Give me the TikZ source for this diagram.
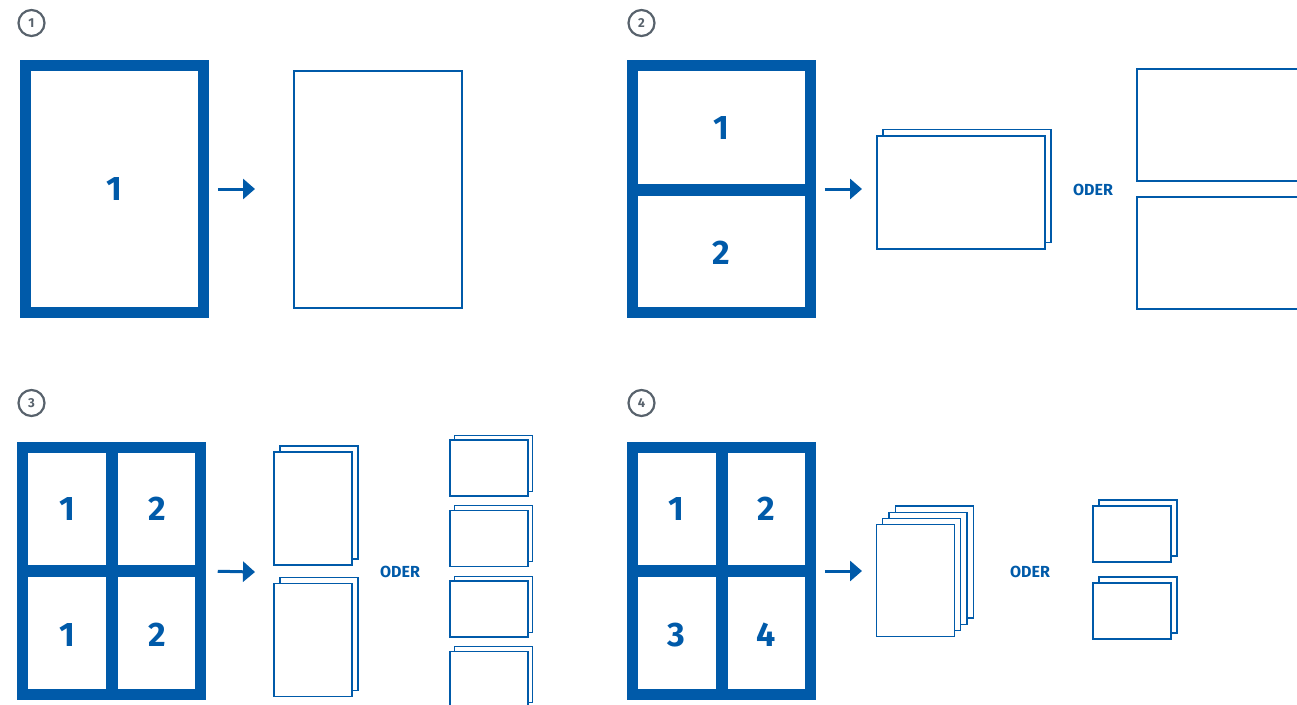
\documentclass[tikz,border=0pt]{standalone}
\usepackage{fontspec}
\setmainfont{Fira Sans}
\usetikzlibrary{arrows.meta}
\usetikzlibrary{positioning}
\definecolor{docblue}{RGB}{0,90,169}
\definecolor{badgegrey}{RGB}{88,98,108}
\tikzset{
  frame/.style={draw=docblue, line width=10.5pt, minimum width=178pt, minimum height=247pt, inner sep=0pt},
  bar/.style={draw=docblue, line width=12pt},
  sheet/.style={draw=docblue, line width=1.2pt, fill=white, inner sep=0pt},
  digit/.style={text=docblue, font=\fontsize{34}{34}\selectfont\bfseries},
  oder/.style={text=docblue, font=\fontsize{16}{16}\selectfont\bfseries},
  badge/.style={circle, draw=badgegrey, line width=2.2pt, minimum size=26pt, inner sep=0pt, text=badgegrey, font=\fontsize{13}{13}\selectfont\bfseries},
  flow/.style={draw=docblue, line width=3pt, -{Triangle[length=12pt,width=20pt]}, shorten <=9pt}
}

\begin{document}
\begin{tikzpicture}[x=1pt, y=-1pt]
        \useasboundingbox (0,0) rectangle (1297,704);
        \clip (0,0) rectangle (1297,704);

        \node[badge] (n1) at (31.5,23) {1};
        \node[badge] (n2) at (641.5,23) {2};
        \node[badge] (n3) at (31.5,403) {3};
        \node[badge] (n4) at (641.5,403) {4};

        % 1
        \node[frame, digit] (f1) at (114.5,189) {1};
        \node[sheet, minimum width=168pt, minimum height=237pt] (s1) at (378,189.5) {};
        \coordinate (a1) at (255,189);
        \draw[flow] (f1.east) -- (a1);

        % 2
        \node[frame] (f2) at (721.5,189) {};
        \draw[bar] (f2.west |- 0,190) -- (f2.east |- 0,190);
        \node[digit] (f2a) at (721.5,128) {1};
        \node[digit] (f2b) at (721.5,253) {2};
        \coordinate (a2) at (862,189);
        \draw[flow] (f2.east) -- (a2);
        \foreach \i in {1,0}
          \node[sheet, minimum width=168pt, minimum height=113pt] (s2\i) at ({961+6*\i},{192.5-6.5*\i}) {};
        \node[oder] (o2) at (1093,190) {ODER};
        \node[sheet, minimum width=237pt, minimum height=112pt] (s2top) at (1255.5,125) {};
        \node[sheet, minimum width=237pt, minimum height=112pt] (s2bot) at (1255.5,253) {};

        % 3
        \node[frame] (f3) at (111.5,571) {};
        \draw[bar] (f3.north) -- (f3.south);
        \draw[bar] (f3.west) -- (f3.east);
        \node[digit] (f3a) at (67,509) {1};
        \node[digit] (f3b) at (157,509) {2};
        \node[digit] (f3c) at (67,635) {1};
        \node[digit] (f3d) at (157,635) {2};
        \coordinate (a3) at (255,572);
        \draw[flow, shorten <=12pt] (f3.east) -- (a3);
        \foreach \y/\n in {508.5/top,640/bot}
          \foreach \i in {1,0}
            \node[sheet, minimum width=78pt, minimum height=113pt] (s3\n\i) at ({313+6*\i},{\y-6*\i}) {};
        \node[oder] (o3) at (400,572) {ODER};
        \foreach \y [count=\k] in {468,538.5,609,679.5}
          \foreach \i in {1,0}
            \node[sheet, minimum width=78pt, minimum height=56pt] (t3\k\i) at ({489+4.7*\i},{\y-4.7*\i}) {};

        % 4
        \node[frame] (f4) at (721.5,571) {};
        \draw[bar] (f4.north) -- (f4.south);
        \draw[bar] (f4.west) -- (f4.east);
        \node[digit] (f4a) at (676,509) {1};
        \node[digit] (f4b) at (766.5,509) {2};
        \node[digit] (f4c) at (676,635) {3};
        \node[digit] (f4d) at (766.5,635) {4};
        \coordinate (a4) at (862,571);
        \draw[flow] (f4.east) -- (a4);
        \foreach \i in {3,2,1,0}
          \node[sheet, minimum width=78pt, minimum height=112pt] (s4\i) at ({915.5+6.2*\i},{580.5-6.2*\i}) {};
        \node[oder] (o4) at (1030,572) {ODER};
        \foreach \y [count=\k] in {534,611}
          \foreach \i in {1,0}
            \node[sheet, minimum width=78pt, minimum height=56pt] (t4\k\i) at ({1132+6*\i},{\y-6*\i}) {};
      \end{tikzpicture}
\end{document}
